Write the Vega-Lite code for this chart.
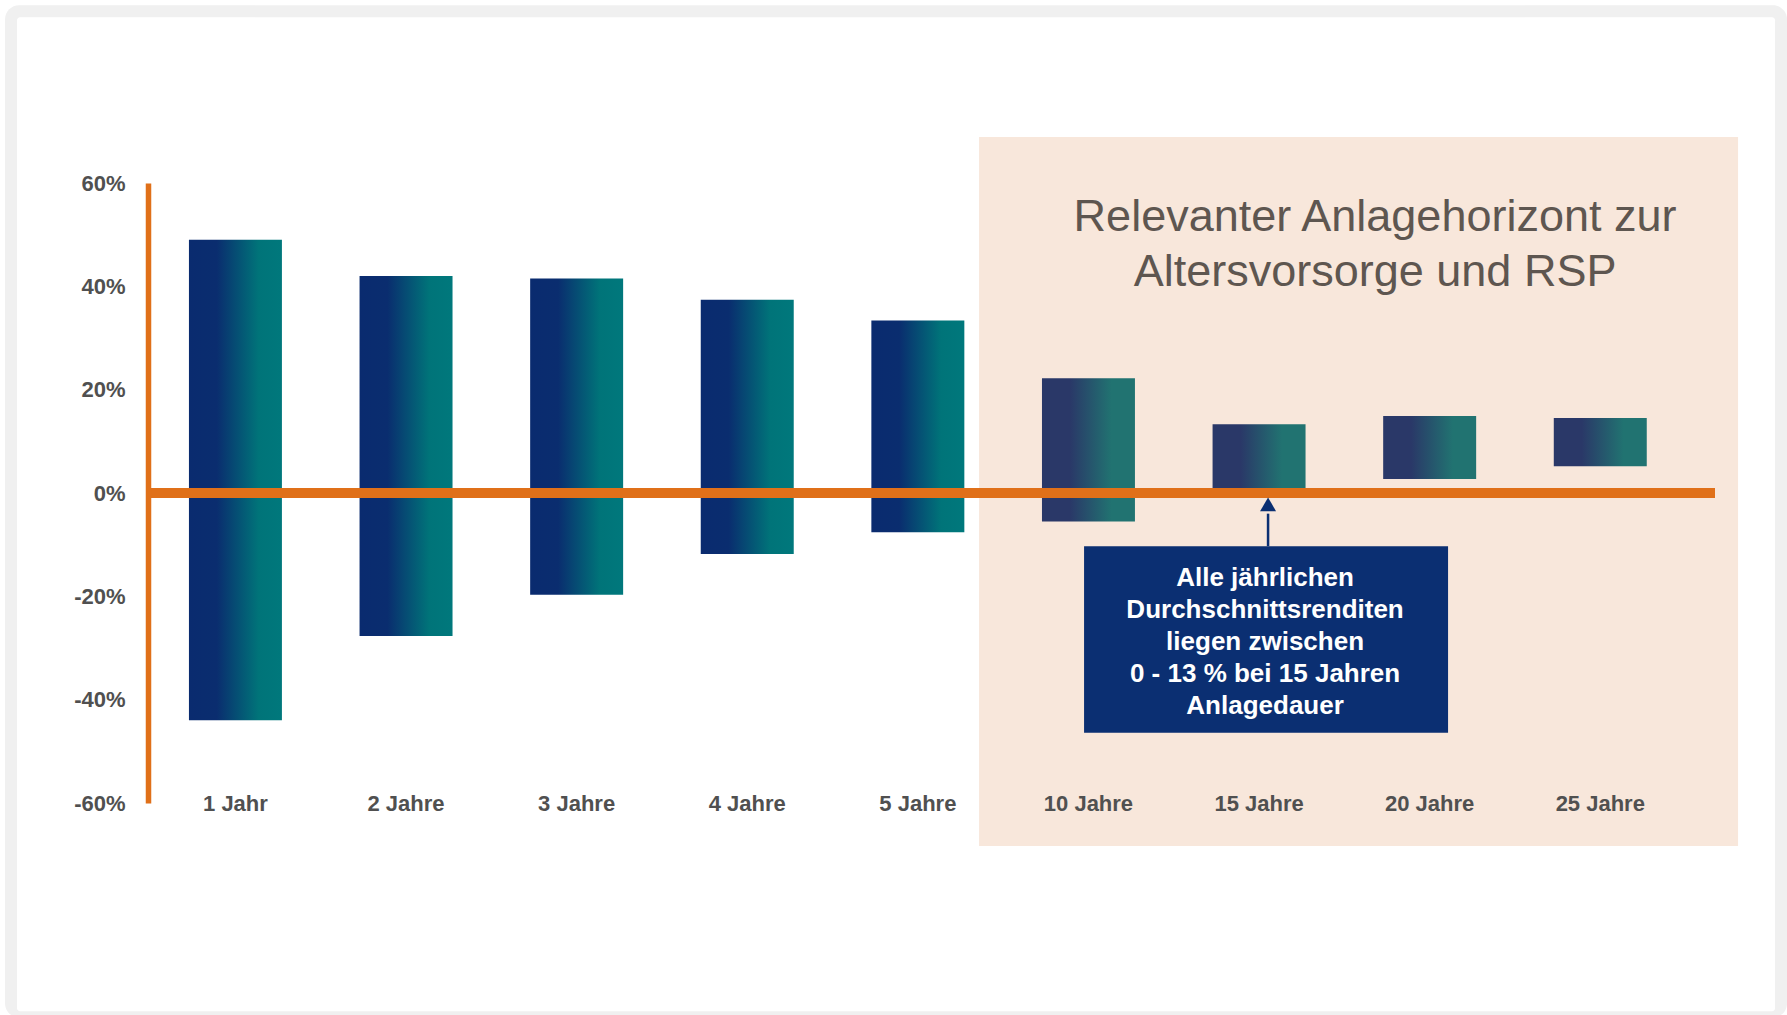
{
  "$schema": "https://vega.github.io/schema/vega-lite/v6.json",
  "autosize": {"type": "none"},
  "width": 1567,
  "height": 620,
  "padding": {"left": 148, "top": 183, "right": 72, "bottom": 212},
  "background": "white",
  "config": {
    "view": {"stroke": null},
    "font": "Liberation Sans"
  },
  "data": {"values": [
    {"horizon": "1 Jahr", "min": -44, "max": 49, "zone": "short"},
    {"horizon": "2 Jahre", "min": -27.7, "max": 42, "zone": "short"},
    {"horizon": "3 Jahre", "min": -19.7, "max": 41.5, "zone": "short"},
    {"horizon": "4 Jahre", "min": -11.8, "max": 37.4, "zone": "short"},
    {"horizon": "5 Jahre", "min": -7.6, "max": 33.4, "zone": "short"},
    {"horizon": "10 Jahre", "min": -5.5, "max": 22.2, "zone": "long"},
    {"horizon": "15 Jahre", "min": 0, "max": 13.3, "zone": "long"},
    {"horizon": "20 Jahre", "min": 2.7, "max": 14.9, "zone": "long"},
    {"horizon": "25 Jahre", "min": 5.2, "max": 14.5, "zone": "long"}
  ]},
  "layer": [
    {
      "data": {"values": [{"part": "frame"}]},
      "mark": {"type": "bar", "fill": "#F0F0F0", "width": 1782, "xOffset": -21.8, "cornerRadius": 14},
      "encoding": {
        "x": {"datum": "5 Jahre", "title": null},
        "y": {"datum": 94.4, "title": null},
        "y2": {"datum": -101.5}
      }
    },
    {
      "data": {"values": [{"part": "page"}]},
      "mark": {"type": "bar", "fill": "white", "width": 1758, "xOffset": -21.8, "cornerRadius": 3},
      "encoding": {
        "x": {"datum": "5 Jahre", "title": null},
        "y": {"datum": 92.1, "title": null},
        "y2": {"datum": -100.3}
      }
    },
    {
      "data": {"values": [{"part": "zone"}]},
      "mark": {"type": "bar", "fill": "#F8E7DB", "width": 759, "xOffset": 99.5},
      "encoding": {
        "x": {"datum": "15 Jahre", "title": null},
        "y": {"datum": 68.9, "title": null},
        "y2": {"datum": -68.3}
      }
    },
    {
      "transform": [{"filter": "datum.zone == 'short'"}],
      "mark": {"type": "bar", "color": {"gradient": "linear", "x1": 0, "x2": 1, "y1": 0, "y2": 0, "stops": [
        {"offset": 0, "color": "#0A2B6F"},
        {"offset": 0.3, "color": "#0A2D6F"},
        {"offset": 0.75, "color": "#007479"},
        {"offset": 1, "color": "#00787C"}
      ]}},
      "encoding": {
        "x": {
          "field": "horizon", "type": "nominal", "title": null,
          "scale": {"domain": ["1 Jahr", "2 Jahre", "3 Jahre", "4 Jahre", "5 Jahre", "10 Jahre", "15 Jahre", "20 Jahre", "25 Jahre"], "paddingInner": 0.455, "paddingOuter": 0.32, "align": 0.375},
          "axis": {"orient": "bottom", "zindex": 3, "bandPosition": 0.5, "domain": false, "ticks": false, "tickSize": 0, "labelAngle": 0, "labelAlign": "center", "labelBaseline": "middle", "labelPadding": 0, "labelFont": "Liberation Sans", "labelFontSize": 22, "labelFontWeight": "bold", "labelColor": "#505050", "labelOverlap": false, "labelLimit": 400, "grid": false}
        },
        "y": {
          "field": "max", "type": "quantitative", "title": null,
          "scale": {"domain": [-60, 60], "nice": false, "zero": false},
          "axis": {"values": [-60, -40, -20, 0, 20, 40, 60], "labelExpr": "datum.value + '%'", "zindex": 3, "grid": false, "ticks": false, "tickSize": 0, "labelPadding": 23, "labelFont": "Liberation Sans", "labelFontSize": 22, "labelFontWeight": "bold", "labelColor": "#505050", "domainColor": "#E07019", "domainWidth": 5.5, "domainCap": "butt"}
        },
        "y2": {"field": "min"}
      }
    },
    {
      "transform": [{"filter": "datum.zone == 'long'"}],
      "mark": {"type": "bar", "color": {"gradient": "linear", "x1": 0, "x2": 1, "y1": 0, "y2": 0, "stops": [
        {"offset": 0, "color": "#2A3868"},
        {"offset": 0.3, "color": "#2A3868"},
        {"offset": 0.75, "color": "#217371"},
        {"offset": 1, "color": "#217371"}
      ]}},
      "encoding": {
        "x": {"field": "horizon", "type": "nominal", "title": null},
        "y": {"field": "max", "type": "quantitative", "title": null},
        "y2": {"field": "min"}
      }
    },
    {
      "data": {"values": [{"part": "zero line"}]},
      "mark": {"type": "rule", "color": "#E07019", "strokeWidth": 10},
      "encoding": {"y": {"datum": 0, "title": null}}
    },
    {
      "data": {"values": [{"part": "note box"}]},
      "mark": {"type": "bar", "fill": "#0B2F72", "width": 364, "xOffset": 7},
      "encoding": {
        "x": {"datum": "15 Jahre", "title": null},
        "y": {"datum": -10.3, "title": null},
        "y2": {"datum": -46.4}
      }
    },
    {
      "data": {"values": [{"part": "arrow"}]},
      "mark": {"type": "rule", "color": "#0B2F72", "strokeWidth": 2.5, "xOffset": 9},
      "encoding": {
        "x": {"datum": "15 Jahre", "title": null},
        "y": {"datum": -4.0, "title": null},
        "y2": {"datum": -10.3}
      }
    },
    {
      "data": {"values": [{"part": "arrow head"}]},
      "mark": {"type": "point", "shape": "triangle-up", "filled": true, "size": 256, "color": "#0B2F72", "opacity": 1, "xOffset": 9},
      "encoding": {
        "x": {"datum": "15 Jahre", "title": null},
        "y": {"datum": -2.2, "title": null}
      }
    },
    {
      "data": {"values": [{"note": ["Alle jährlichen", "Durchschnittsrenditen", "liegen zwischen", "0 - 13 % bei 15 Jahren", "Anlagedauer"]}]},
      "mark": {"type": "text", "color": "white", "font": "Liberation Sans", "fontSize": 26, "fontWeight": "bold", "lineHeight": 32, "align": "center", "baseline": "middle", "xOffset": 6},
      "encoding": {
        "x": {"datum": "15 Jahre", "title": null},
        "y": {"datum": -16.5, "title": null},
        "text": {"field": "note"}
      }
    },
    {
      "data": {"values": [{"label": ["Relevanter Anlagehorizont zur", "Altersvorsorge und RSP"]}]},
      "mark": {"type": "text", "color": "#5E5650", "font": "Liberation Sans", "fontSize": 45, "lineHeight": 55, "align": "center", "baseline": "middle", "xOffset": 116},
      "encoding": {
        "x": {"datum": "15 Jahre", "title": null},
        "y": {"datum": 53.4, "title": null},
        "text": {"field": "label"}
      }
    }
  ]
}
